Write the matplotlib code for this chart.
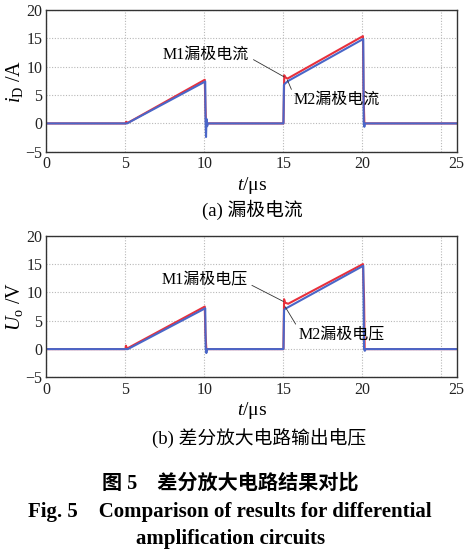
import matplotlib
matplotlib.use("Agg")
import matplotlib.pyplot as plt
import matplotlib.transforms as mtransforms

plt.rcParams['font.family'] = ['Liberation Serif', 'Noto Sans CJK SC', 'DejaVu Sans']
plt.rcParams['mathtext.fontset'] = 'custom'
plt.rcParams['mathtext.rm'] = 'Liberation Serif'
plt.rcParams['mathtext.it'] = 'Liberation Serif:italic'
plt.rcParams['axes.unicode_minus'] = True

# ---------------- data ----------------
# (a) drain current
t_m1_a = [0, 5.0, 5.05, 5.15, 10.02, 10.06, 10.1, 10.15, 15.0, 15.05, 15.1, 15.25, 20.03, 20.07, 20.12, 26]
i_m1_a = [0, 0, 0.3, 0.1, 7.7, 3.0, 0, 0, 0, 8.5, 8.2, 7.9, 15.4, 5.0, 0, 0]
t_m2_a = [0, 5.0, 5.1, 10.05, 10.07, 10.1, 10.13, 10.17, 10.22, 15.0, 15.03, 15.08, 15.3, 20.05, 20.08, 20.12, 20.16, 26]
i_m2_a = [0, 0, 0, 7.4, 0.5, -2.4, 0.8, -0.5, 0, 0, 6.8, 7.0, 7.5, 14.9, 0, -0.6, 0, 0]

# (b) output voltage
t_m1_b = [0, 5.0, 5.03, 5.1, 10.02, 10.06, 10.12, 15.0, 15.04, 15.1, 15.3, 20.03, 20.06, 20.1, 20.14, 26]
u_m1_b = [0, 0, 0.6, 0.1, 7.5, 3.0, 0, 0, 8.8, 8.2, 8.0, 15.0, 12.0, 9.0, 0, 0]
t_m2_b = [0, 5.0, 5.15, 10.05, 10.08, 10.12, 10.18, 15.0, 15.04, 15.1, 15.3, 20.05, 20.1, 20.15, 20.2, 26]
u_m2_b = [0, 0, 0, 7.2, 0, -0.7, 0, 0, 6.9, 7.1, 7.4, 14.7, 0, -0.3, 0, 0]

x_ticks = [0, 5, 10, 15, 20, 25]
y_ticks = [-5, 0, 5, 10, 15, 20]

RED = '#e8303c'
BLUE = '#4a66c8'

fig = plt.figure(figsize=(4.69, 5.6), dpi=100)
ax1 = fig.add_axes([0.099, 0.729, 0.876, 0.253])
ax2 = fig.add_axes([0.099, 0.326, 0.876, 0.253])


def style(ax, ylabel):
    ax.set_xlim(0, 26)
    ax.set_ylim(-5, 20)
    ax.set_xticks(x_ticks)
    ax.set_yticks(y_ticks)
    ax.grid(True, linestyle=(0, (1, 1.5)), color='#b8b8b8', linewidth=0.8)
    ax.tick_params(direction='in', length=0, labelsize=11.5, pad=3, colors='#222222')
    for s in ax.spines.values():
        s.set_color('#333333')
        s.set_linewidth(1.0)
    ax.set_xlabel(r'$t$/μs', fontsize=14, labelpad=2)
    ax.set_ylabel(ylabel, fontsize=14.5, labelpad=0)
    # shift last x tick label to the right edge
    labels = ax.get_xticklabels()
    off = mtransforms.ScaledTranslation(15 / 100, 0, fig.dpi_scale_trans)
    labels[-1].set_transform(labels[-1].get_transform() + off)


ax1.plot(t_m1_a, i_m1_a, color=RED, lw=1.5)
ax1.plot(t_m2_a, i_m2_a, color=BLUE, lw=1.5)
style(ax1, r'$i_{\rm D}$ /A')
ax1.annotate('M1漏极电流', xy=(15.05, 8.2), xytext=(10.1, 12.1),
             ha='center', va='center', fontsize=11.5,
             arrowprops=dict(arrowstyle='-', color='#333333', lw=0.6,
                             shrinkA=0, shrinkB=0, relpos=(1.05, 0.2)))
ax1.annotate('M2漏极电流', xy=(15.25, 7.65), xytext=(18.35, 4.1),
             ha='center', va='center', fontsize=11.5,
             arrowprops=dict(arrowstyle='-', color='#333333', lw=0.6,
                             shrinkA=0, shrinkB=0, relpos=(0.0, 0.9)))

ax2.plot(t_m1_b, u_m1_b, color=RED, lw=1.5)
ax2.plot(t_m2_b, u_m2_b, color=BLUE, lw=1.5)
style(ax2, r'$U_{\rm o}$ /V')
ax2.annotate('M1漏极电压', xy=(15.0, 8.4), xytext=(10.0, 12.1),
             ha='center', va='center', fontsize=11.5,
             arrowprops=dict(arrowstyle='-', color='#333333', lw=0.6,
                             shrinkA=0, shrinkB=0, relpos=(1.05, 0.2)))
ax2.annotate('M2漏极电压', xy=(15.1, 7.5), xytext=(18.67, 2.5),
             ha='center', va='center', fontsize=11.5,
             arrowprops=dict(arrowstyle='-', color='#333333', lw=0.6,
                             shrinkA=0, shrinkB=0, relpos=(0.0, 0.9)))

fig.text(252 / 469, 1 - 210 / 560, '(a) 漏极电流', ha='center', va='center', fontsize=13.5)
fig.text(259 / 469, 1 - 438 / 560, '(b) 差分放大电路输出电压', ha='center', va='center', fontsize=13.5)
fig.text(230 / 469, 1 - 484 / 560, '图 5    差分放大电路结果对比', ha='center', va='center',
         fontsize=14.5, fontweight='bold')
fig.text(230 / 469, 1 - 512 / 560, 'Fig. 5    Comparison of results for differential',
         ha='center', va='center', fontsize=15, fontweight='bold')
fig.text(231 / 469, 1 - 539 / 560, 'amplification circuits',
         ha='center', va='center', fontsize=15, fontweight='bold')

fig.savefig('out.png', dpi=100)
